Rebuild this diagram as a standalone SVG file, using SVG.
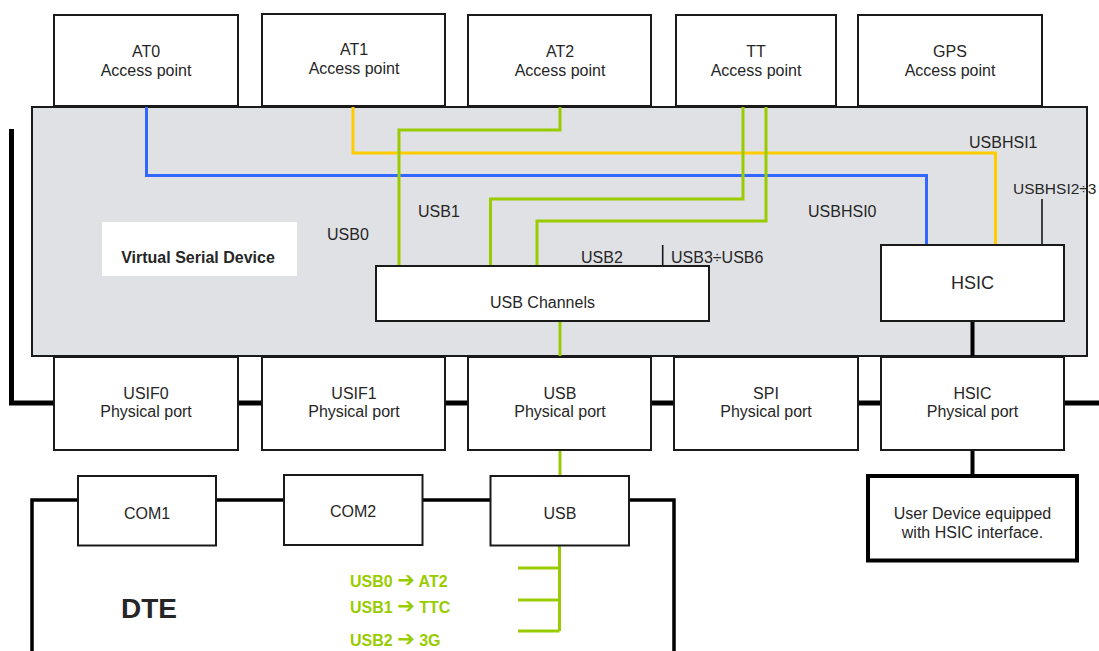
<svg xmlns="http://www.w3.org/2000/svg" width="1099" height="651" viewBox="0 0 1099 651">
<style>
.box{fill:#fff;stroke:#1a1a1a;stroke-width:2}
.t{font-family:"Liberation Sans",Arial,sans-serif;font-size:16px;fill:#262626;text-anchor:middle}
.l{font-family:"Liberation Sans",Arial,sans-serif;font-size:16px;fill:#262626}
.g{fill:none;stroke:#99cc00;stroke-width:3}
.b{fill:none;stroke:#3366ff;stroke-width:3}
.y{fill:none;stroke:#ffcc00;stroke-width:3}
.k{fill:none;stroke:#000;stroke-width:4}
.gl{font-family:"Liberation Sans",Arial,sans-serif;font-size:16px;font-weight:bold;fill:#99cc00}
.ar{font-family:"DejaVu Sans",sans-serif;font-size:21px;font-weight:bold}
</style>
<rect width="1099" height="651" fill="#fff"/>
<g id="bus">
<path class="k" d="M11.5,129 V403 H1099" style="stroke-width:5"/>
<path class="k" d="M32,651 V500 H674 V651" style="stroke-width:3.5"/>
</g>
<g id="vsd">
<rect x="32" y="107" width="1055" height="249" fill="#e0e1e5" stroke="#1a1a1a" stroke-width="2"/>
<rect x="102" y="222" width="195" height="54" fill="#fff"/>
<text x="198" y="263" class="t" style="font-weight:bold">Virtual Serial Device</text>
</g>
<g id="at0"><rect class="box" x="54" y="15" width="184" height="91"/><text class="t" x="146" y="57">AT0</text><text class="t" x="146" y="76">Access point</text></g>
<g id="at1"><rect class="box" x="262" y="14" width="183" height="92"/><text class="t" x="354" y="55">AT1</text><text class="t" x="354" y="74">Access point</text></g>
<g id="at2"><rect class="box" x="468" y="15" width="183" height="91"/><text class="t" x="560" y="57">AT2</text><text class="t" x="560" y="76">Access point</text></g>
<g id="tt"><rect class="box" x="676" y="15" width="160" height="91"/><text class="t" x="756" y="57">TT</text><text class="t" x="756" y="76">Access point</text></g>
<g id="gps"><rect class="box" x="858" y="15" width="184" height="91"/><text class="t" x="950" y="57">GPS</text><text class="t" x="950" y="76">Access point</text></g>
<g id="connectors">
<path class="b" d="M146.5,107 V175.5 H926.5 V245"/>
<path class="y" d="M353,107 V153 H995.5 V245"/>
<path class="g" d="M560,107 V130 H399 V266"/>
<path class="g" d="M743,107 V199 H490.5 V266"/>
<path class="g" d="M766,107 V221 H537 V266"/>
<path class="g" d="M560,321 V357"/>
<path class="g" d="M560,450 V476"/>
<path class="g" d="M559.5,545 V631 M518,568 H559.5 M518,600 H559.5 M518,631 H559.5"/>
<path d="M662.7,245 V266 M1042,199 V245" stroke="#1a1a1a" stroke-width="1.6" fill="none"/>
<path d="M972.5,321 V357 M972.5,450 V476" stroke="#000" stroke-width="4" fill="none"/>
<text class="l" x="327" y="240">USB0</text>
<text class="l" x="418" y="217">USB1</text>
<text class="l" x="581" y="263">USB2</text>
<text class="l" x="671" y="263">USB3÷USB6</text>
<text class="l" x="808" y="217">USBHSI0</text>
<text class="l" x="969" y="148">USBHSI1</text>
<text class="l" x="1013" y="194" style="font-size:15.5px">USBHSI2÷3</text>
</g>
<g id="usbch"><rect class="box" x="376" y="266" width="333" height="55"/><text class="t" x="542.5" y="308">USB Channels</text></g>
<g id="hsic"><rect class="box" x="881" y="245" width="183" height="76"/><text class="t" x="972.5" y="289" style="font-size:18px">HSIC</text></g>
<g id="usif0"><rect class="box" x="54" y="357" width="184" height="93"/><text class="t" x="146" y="399">USIF0</text><text class="t" x="146" y="417">Physical port</text></g>
<g id="usif1"><rect class="box" x="262" y="357" width="183" height="93"/><text class="t" x="354" y="399">USIF1</text><text class="t" x="354" y="417">Physical port</text></g>
<g id="usbp"><rect class="box" x="468" y="357" width="183" height="93"/><text class="t" x="560" y="399">USB</text><text class="t" x="560" y="417">Physical port</text></g>
<g id="spi"><rect class="box" x="674" y="357" width="184" height="93"/><text class="t" x="766" y="399">SPI</text><text class="t" x="766" y="417">Physical port</text></g>
<g id="hsicp"><rect class="box" x="881" y="357" width="183" height="93"/><text class="t" x="972.5" y="399">HSIC</text><text class="t" x="972.5" y="417">Physical port</text></g>
<g id="userdev"><rect x="868" y="476" width="209" height="84.5" fill="#fff" stroke="#000" stroke-width="4"/><text class="t" x="972.5" y="519">User Device equipped</text><text class="t" x="972.5" y="538">with HSIC interface.</text></g>
<g id="com1"><rect class="box" x="78" y="476" width="138" height="69.5"/><text class="t" x="147" y="519">COM1</text></g>
<g id="com2"><rect class="box" x="284" y="475" width="138.5" height="70"/><text class="t" x="353" y="517">COM2</text></g>
<g id="usbd"><rect class="box" x="490.5" y="476" width="138.5" height="69.5"/><text class="t" x="560" y="519">USB</text></g>
<g id="dte">
<text class="t" x="149" y="618" style="font-size:28px;font-weight:bold">DTE</text>
<text class="gl" x="350" y="587">USB0 <tspan class="ar">➔</tspan> AT2</text>
<text class="gl" x="350" y="613">USB1 <tspan class="ar">➔</tspan> TTC</text>
<text class="gl" x="350" y="646">USB2 <tspan class="ar">➔</tspan> 3G</text>
</g>
</svg>
